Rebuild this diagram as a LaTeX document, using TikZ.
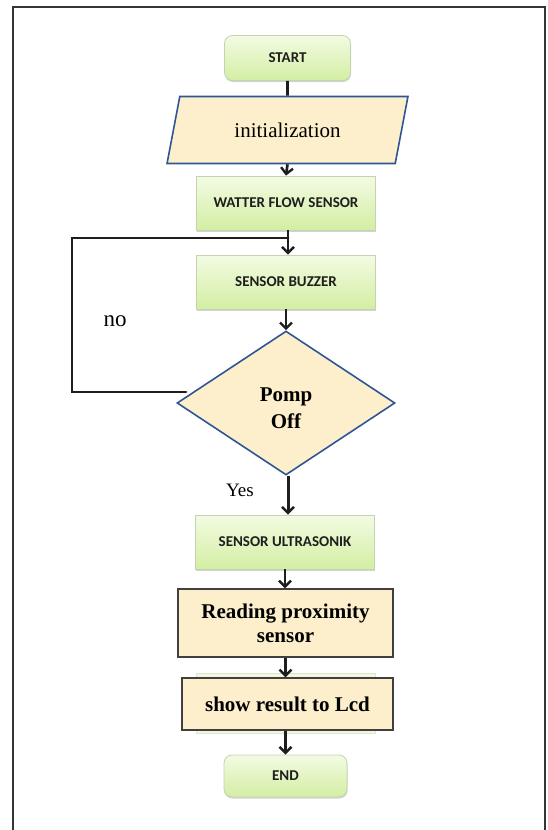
\documentclass[tikz,border=0pt]{standalone}
\usepackage{fontspec}
\setmainfont{Liberation Serif}
\newfontfamily\boxfont{Carlito}
\usetikzlibrary{shapes.geometric,arrows.meta,shadows,shadings}
\definecolor{gtop}{HTML}{F3FBE3}
\definecolor{gbot}{HTML}{D3EEA3}
\definecolor{gedge}{HTML}{C3D4B0}
\definecolor{cream}{HTML}{FDEFCB}
\definecolor{bluedge}{HTML}{2F5597}
\definecolor{ink}{HTML}{1E1E1E}
\tikzset{
  greenbox/.style={draw=gedge, line width=0.8pt, top color=gtop, bottom color=gbot,
    minimum width=179pt, minimum height=54pt, inner sep=0pt,
    drop shadow={shadow xshift=0.5pt, shadow yshift=-1.5pt, opacity=0.35, fill=gray},
    font=\boxfont\bfseries\fontsize{15}{18}\selectfont, text=ink},
  termbox/.style={greenbox, rounded corners=8pt, minimum width=126pt, minimum height=45pt},
  creambox/.style={draw=ink!85, line width=1.4pt, fill=cream, inner sep=0pt,
    font=\bfseries\fontsize{21}{24}\selectfont, align=center},
  flow/.style={draw=ink, line width=2.7pt, -{Straight Barb[length=6pt,width=12pt,line width=2.4pt]}},
  plain/.style={draw=ink, line width=2.7pt},
}
\begin{document}
\begin{tikzpicture}[x=1pt,y=-1pt]
\useasboundingbox (0,0) rectangle (547,830);
\begin{scope}
\clip (0,0) rectangle (547,830);
\draw[ink!90, line width=2pt] (13,7) rectangle (545,850);
\end{scope}

% faint green box behind the LCD box
\node[draw=gedge!60, fill=gbot!35, minimum width=179pt, minimum height=60pt, inner sep=0pt] (ghost) at (286,703) {};

\node[termbox] (start) at (287.5,58) {START};
\node[trapezium, trapezium left angle=67, trapezium right angle=113, trapezium stretches=true,
      minimum width=241pt, minimum height=67pt, inner sep=0pt,
      draw=bluedge, line width=1.6pt, fill=cream,
      font=\fontsize{21}{24}\selectfont] (init) at (287.5,130) {initialization};
\node[greenbox] (wfs) at (286,203) {WATTER FLOW SENSOR};
\node[greenbox] (buzz) at (286,282) {SENSOR BUZZER};
\node[diamond, draw=bluedge, line width=1.6pt, fill=cream, minimum width=218pt, minimum height=144pt,
      inner sep=0pt] (dia) at (286,403) {};
\node[align=center, font=\bfseries\fontsize{21}{27}\selectfont] (diatext) at (286,408) {Pomp\\Off};
\node[greenbox] (ultra) at (285,542) {SENSOR ULTRASONIK};
\node[creambox, minimum width=215pt, minimum height=68pt] (read) at (285.5,623) {Reading proximity\\sensor};
\node[creambox, minimum width=211pt, minimum height=52pt] (lcd) at (287.5,704) {show result to Lcd};
\node[termbox, minimum width=123pt, minimum height=42pt] (end) at (285.5,776) {END};

\node[font=\fontsize{23}{26}\selectfont] (no) at (115,321) {no};
\node[font=\fontsize{19}{22}\selectfont] (yes) at (240,490) {Yes};

\coordinate (lp) at (186,392);
\coordinate (j) at (288,238);

\draw[plain] (start.south) -- (init.north);
\draw[flow] (init.south) -- (wfs.north);
\draw[flow] (wfs.south -| j) -- (buzz.north -| j);
\draw[plain, line cap=round] (lp) -- (72,392) -- (72,238) -- (j);
\draw[flow] (buzz.south -| dia.north) -- (dia.north);
\draw[flow, line width=3pt] (dia.south) ++(2,0) -- (ultra.north -| 288,0);
\draw[flow] (ultra.south) -- (read.north -| ultra.south);
\draw[flow] (read.south) -- (lcd.north -| read.south);
\draw[flow] (lcd.south -| end.north) -- (end.north);
\end{tikzpicture}
\end{document}
